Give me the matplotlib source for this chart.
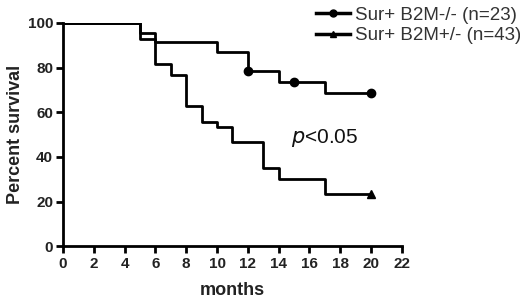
import matplotlib
matplotlib.use('Agg')
import matplotlib.pyplot as plt
from matplotlib.lines import Line2D

plt.rcParams['font.family'] = ['Liberation Sans', 'DejaVu Sans']

# Sur+ B2M-/- (n=23)
time_a = [0, 5, 6, 10, 12, 14, 17, 20]
surv_a = [100, 95.7, 91.3, 87.0, 78.3, 73.7, 68.8, 68.8]
cens_time_a = [12, 15, 20]
cens_surv_a = [78.3, 73.7, 68.8]

# Sur+ B2M+/- (n=43)
time_b = [0, 5, 6, 7, 8, 9, 10, 11, 13, 14, 17, 20]
surv_b = [100, 93.0, 81.4, 76.7, 62.8, 55.8, 53.5, 46.5, 34.9, 30.2, 23.3, 23.3]
cens_time_b = [20]
cens_surv_b = [23.3]

labels = ['Sur+ B2M-/- (n=23)', 'Sur+ B2M+/- (n=43)']
xticks = list(range(0, 24, 2))
yticks = [0, 20, 40, 60, 80, 100]

fig = plt.figure(figsize=(5.2, 2.98), dpi=100)
ax = fig.add_axes([0.121, 0.174, 0.652, 0.749])

ax.step(time_a, surv_a, where='post', color='black', lw=2)
ax.plot(cens_time_a, cens_surv_a, 'o', color='black', ms=6)
ax.step(time_b, surv_b, where='post', color='black', lw=2)
ax.plot(cens_time_b, cens_surv_b, '^', color='black', ms=6)

ax.set_xlim(0, 22)
ax.set_ylim(0, 100)
ax.set_xticks(xticks)
ax.set_yticks(yticks)
for s in ['top', 'right']:
    ax.spines[s].set_visible(False)
for s in ['left', 'bottom']:
    ax.spines[s].set_linewidth(2)
ax.tick_params(width=2, length=5, labelsize=11, pad=2)
ax.tick_params(axis='x', pad=3)
for t in ax.get_xticklabels() + ax.get_yticklabels():
    t.set_fontweight('bold')
    t.set_color('#222222')

ax.set_xlabel('months', fontsize=13, fontweight='bold', color='#222222', labelpad=8)
ax.set_ylabel('Percent survival', fontsize=13, fontweight='bold', color='#222222', labelpad=3)

ax.text(14.8, 48.4, r'$p$<0.05', fontsize=15, va='center', ha='left', color='#111111')

handles = [Line2D([], [], color='black', lw=2.5, marker='o', ms=5),
           Line2D([], [], color='black', lw=2.5, marker='^', ms=5)]
fig.legend(handles, labels, loc='upper left', bbox_to_anchor=(0.575, 1.035),
           frameon=False, handlelength=1.8, handletextpad=0.27,
           labelspacing=0.2, prop={'size': 13.5}, labelcolor='#333333')

fig.savefig('out.png', dpi=100)
